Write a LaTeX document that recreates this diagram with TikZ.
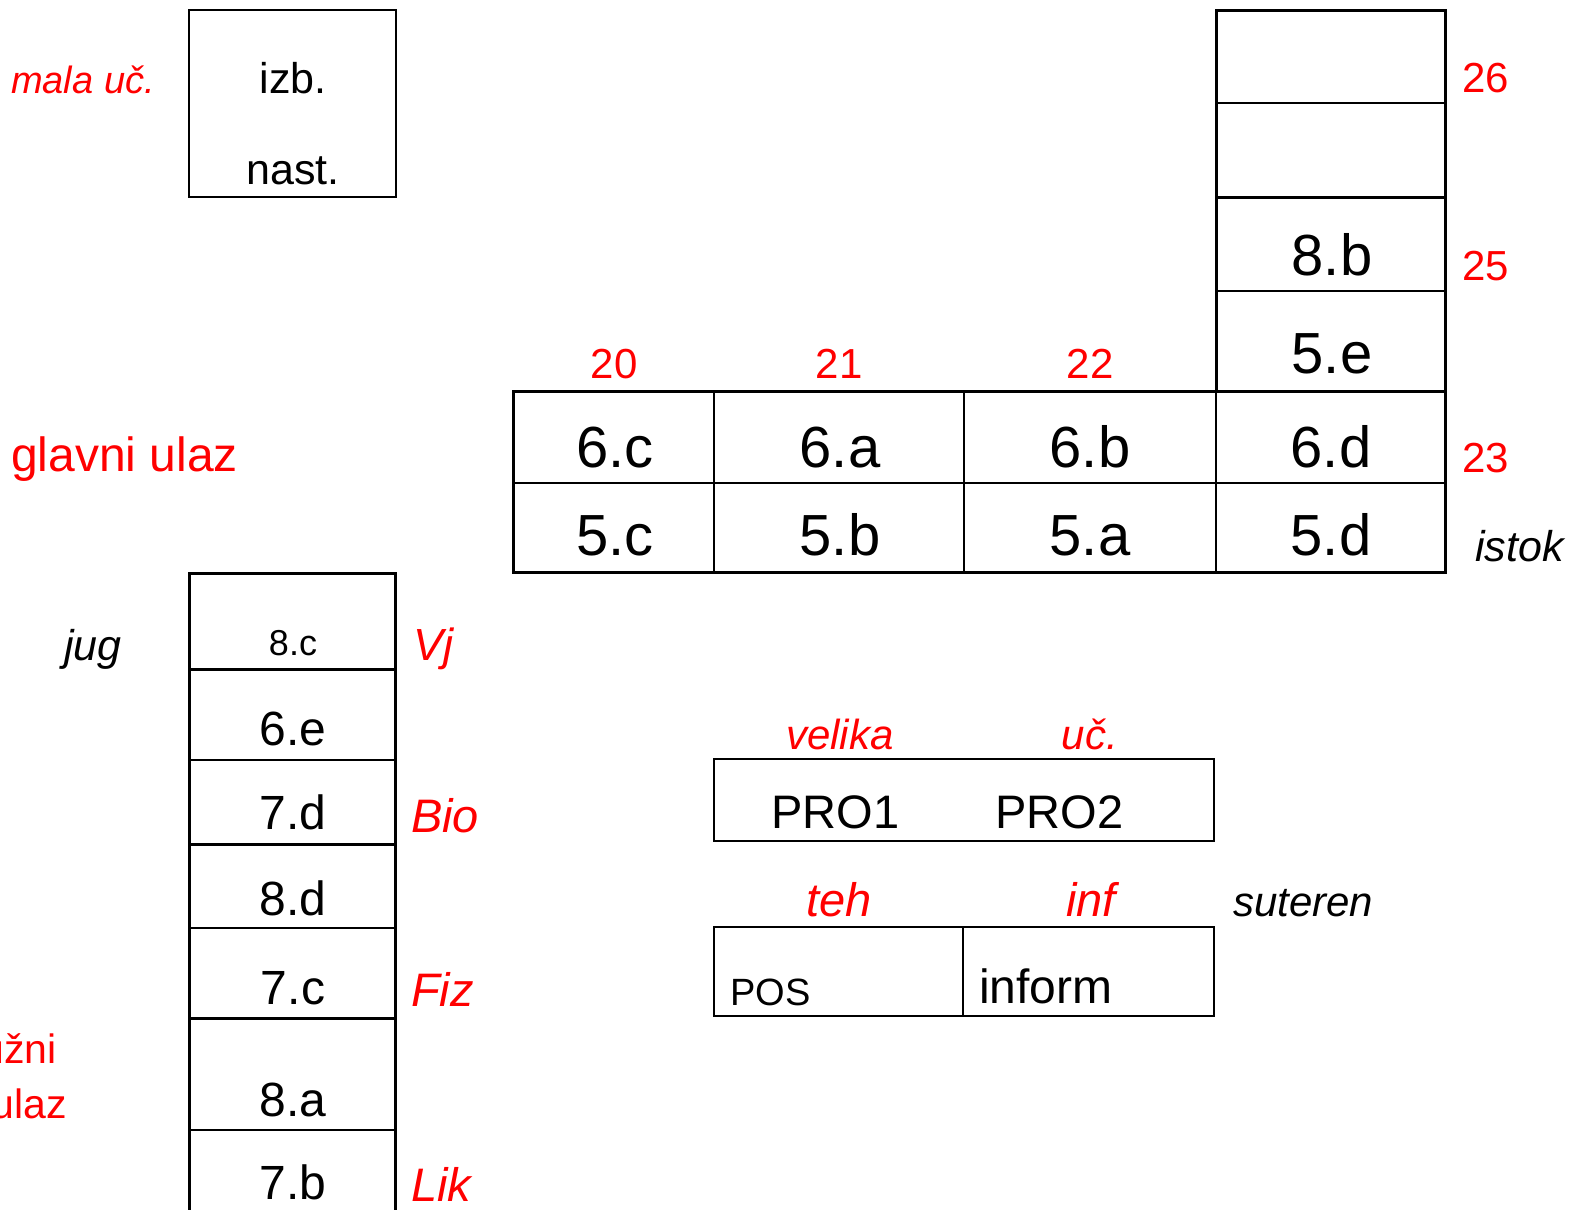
\documentclass[tikz,border=0pt]{standalone}
\usepackage{fontspec}
\setmainfont{Liberation Sans}
\begin{document}
\begin{tikzpicture}[x=1pt,y=-1pt,
  lbl/.style={inner sep=0pt,anchor=base},
  lblw/.style={inner sep=0pt,anchor=base west},
  lble/.style={inner sep=0pt,anchor=base east},
  rd/.style={text=red},
  thick/.style={line width=3pt},
  thin/.style={line width=2pt},
  fA/.style={font=\fontsize{58}{60}\selectfont},
  fB/.style={font=\fontsize{48}{50}\selectfont},
  fC/.style={font=\fontsize{42}{44}\selectfont},
  fI/.style={font=\fontsize{#1}{#1}\selectfont\itshape},
  fS/.style={font=\fontsize{#1}{#1}\selectfont}]
\useasboundingbox (0,0) rectangle (1572,1210);

% top-left box
\draw[thin] (189,10) rectangle (396,197);
\node[lbl,fS=43] (izb) at (293,93) {izb.};
\node[lbl,fS=43] (nast) at (293,184) {nast.};
\node[lblw,rd,fI=38] (mala) at (11,93) {mala uč.};

% right column
\draw[thin] (1216,103) -- (1445,103);
\draw[thick] (1216,197) -- (1445,197);
\draw[thin] (1216,291) -- (1445,291);
\draw[thick] (1216,10) rectangle (1445,391);
\node[lbl,fA] (c8b) at (1332,275) {8.b};
\node[lbl,fA] (c5e) at (1332,373) {5.e};
\node[lblw,rd,fC] (n26) at (1462,92) {26};
\node[lblw,rd,fC] (n25) at (1462,280) {25};
\node[lblw,rd,fC] (n23) at (1462,472) {23};

% main grid
\draw[thin] (513,483) -- (1445,483);
\draw[thin] (714,391) -- (714,572);
\draw[thin] (964,391) -- (964,572);
\draw[thin] (1216,391) -- (1216,572);
\draw[thick] (513,391) rectangle (1445,572);
\node[lbl,rd,fC] (n20) at (614,378) {20};
\node[lbl,rd,fC] (n21) at (839,378) {21};
\node[lbl,rd,fC] (n22) at (1090,378) {22};
\node[lbl,fA] (c6c) at (615,467) {6.c};
\node[lbl,fA] (c6a) at (840,467) {6.a};
\node[lbl,fA] (c6b) at (1090,467) {6.b};
\node[lbl,fA] (c6d) at (1331,467) {6.d};
\node[lbl,fA] (c5c) at (615,555) {5.c};
\node[lbl,fA] (c5b) at (840,555) {5.b};
\node[lbl,fA] (c5a) at (1090,555) {5.a};
\node[lbl,fA] (c5d) at (1331,555) {5.d};
\node[lblw,fI=43] (istok) at (1475,561) {istok};
\node[lblw,rd,fS=48] (glavni) at (11,471) {glavni ulaz};

% left column
\draw[thick] (189,669) -- (395,669);
\draw[thin] (189,760) -- (395,760);
\draw[thick] (189,844) -- (395,844);
\draw[thin] (189,928) -- (395,928);
\draw[thick] (189,1018) -- (395,1018);
\draw[thin] (189,1130) -- (395,1130);
\draw[thick] (189,1220) -- (189,573) -- (395,573) -- (395,1220);
\node[lbl,fS=36] (c8c) at (293,655) {8.c};
\node[lbl,fB] (c6e) at (293,745) {6.e};
\node[lbl,fB] (c7d) at (293,829) {7.d};
\node[lbl,fB] (c8d) at (293,915) {8.d};
\node[lbl,fB] (c7c) at (293,1004) {7.c};
\node[lbl,fB] (c8a) at (293,1116) {8.a};
\node[lbl,fB] (c7b) at (293,1199) {7.b};
\node[lblw,rd,fI=45] (vj) at (413,660) {Vj};
\node[lblw,rd,fI=47] (bio) at (411,832) {Bio};
\node[lblw,rd,fI=47] (fiz) at (411,1006) {Fiz};
\node[lblw,rd,fI=47] (lik) at (411,1201) {Lik};
\node[lblw,fI=43] (jug) at (64,660) {jug};
\node[lble,rd,fS=41] (juzni) at (57,1063) {južni};
\node[lble,rd,fS=41] (ulaz) at (67,1118) {ulaz};

% basement
\draw[thin] (714,759) rectangle (1214,841);
\node[lblw,fS=47] (pro1) at (771,828) {PRO1};
\node[lblw,fS=47] (pro2) at (995,828) {PRO2};
\node[lbl,rd,fI=42] (velika) at (840,749) {velika};
\node[lbl,rd,fI=42] (uc) at (1090,749) {uč.};
\node[lbl,rd,fI=47] (teh) at (839,916) {teh};
\node[lbl,rd,fI=47] (inf) at (1091,916) {inf};
\node[lblw,fI=42] (suteren) at (1233,916) {suteren};
\draw[thin] (714,927) rectangle (1214,1016);
\draw[thin] (963,927) -- (963,1016);
\node[lblw,fS=38] (pos) at (730,1005) {POS};
\node[lblw,fS=48] (inform) at (979,1003) {inform};
\end{tikzpicture}
\end{document}
